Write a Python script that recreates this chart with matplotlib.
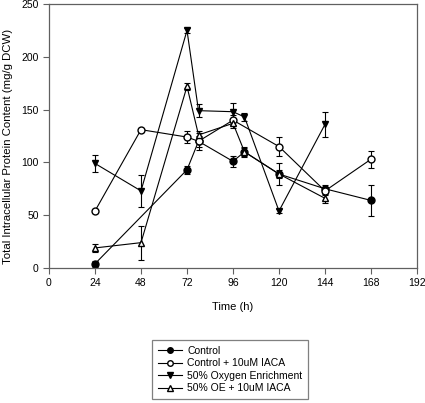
import matplotlib
matplotlib.use('Agg')
import matplotlib.pyplot as plt
from matplotlib.lines import Line2D

plt.rcParams['font.family'] = ['Liberation Sans', 'DejaVu Sans']

# Control (filled circle)
ctrl_t = [24, 72, 78, 96, 102, 120, 144, 168]
ctrl_y = [4, 93, 120, 101, 110, 89, 75, 64]
ctrl_e = [3, 4, 8, 5, 5, 4, 4, 15]

# Control + 10uM IACA (open circle)
ctrl_iaca_t = [24, 48, 72, 78, 96, 120, 144, 168]
ctrl_iaca_y = [54, 131, 124, 120, 140, 115, 73, 103]
ctrl_iaca_e = [2, 2, 6, 5, 5, 9, 4, 8]

# 50% Oxygen Enrichment (filled down triangle)
oe_t = [24, 48, 72, 78, 96, 102, 120, 144]
oe_y = [99, 73, 225, 149, 148, 143, 54, 136]
oe_e = [8, 15, 2, 6, 8, 4, 2, 12]

# 50% OE + 10uM IACA (open triangle)
oe_iaca_t = [24, 48, 72, 78, 96, 102, 120, 144]
oe_iaca_y = [19, 24, 172, 126, 137, 110, 89, 66]
oe_iaca_e = [4, 16, 3, 4, 4, 4, 10, 4]

labels = ['Control', 'Control + 10uM IACA', '50% Oxygen Enrichment', '50% OE + 10uM IACA']
markers = ['o', 'o', 'v', '^']
fills = ['black', 'white', 'black', 'white']

fig = plt.figure(figsize=(4.25, 4.03), dpi=100)
ax = fig.add_axes([49/425, 1-268/403, (417-49)/425, (268-4)/403])

style = dict(color='black', lw=0.8, ms=5, capsize=2.5, elinewidth=0.8, capthick=0.8)
series = [(ctrl_t, ctrl_y, ctrl_e), (ctrl_iaca_t, ctrl_iaca_y, ctrl_iaca_e),
          (oe_t, oe_y, oe_e), (oe_iaca_t, oe_iaca_y, oe_iaca_e)]
for (t, y, e), m, f in zip(series, markers, fills):
    ax.errorbar(t, y, yerr=e, marker=m, mfc=f, mec='black', **style)

ax.set_xlim(0, 192)
ax.set_ylim(0, 250)
ax.set_xticks(range(0, 193, 24))
ax.set_yticks(range(0, 251, 50))
ax.tick_params(direction='out', length=4, width=0.8, labelsize=7.5, color='#606060')
for s in ax.spines.values():
    s.set_color('#606060')
    s.set_linewidth(0.9)

ax.set_xlabel('Time (h)', fontsize=8, labelpad=10)
ax.set_ylabel('Total Intracellular Protein Content (mg/g DCW)', fontsize=8.2)
ax.yaxis.set_label_coords(-0.097, 0.46)

handles = [Line2D([], [], color='black', lw=0.8, marker=m, mfc=f, mec='black', ms=4)
           for m, f in zip(markers, fills)]
leg = fig.legend(handles, labels, loc='upper left', bbox_to_anchor=(152/425, 1-340/403),
                 fontsize=7.5, frameon=True, fancybox=False, edgecolor='#606060',
                 handlelength=2.3, handletextpad=0.55, labelspacing=0.24, borderpad=0.55,
                 borderaxespad=0)
leg.get_frame().set_linewidth(0.9)

fig.savefig('out.png', dpi=100)
